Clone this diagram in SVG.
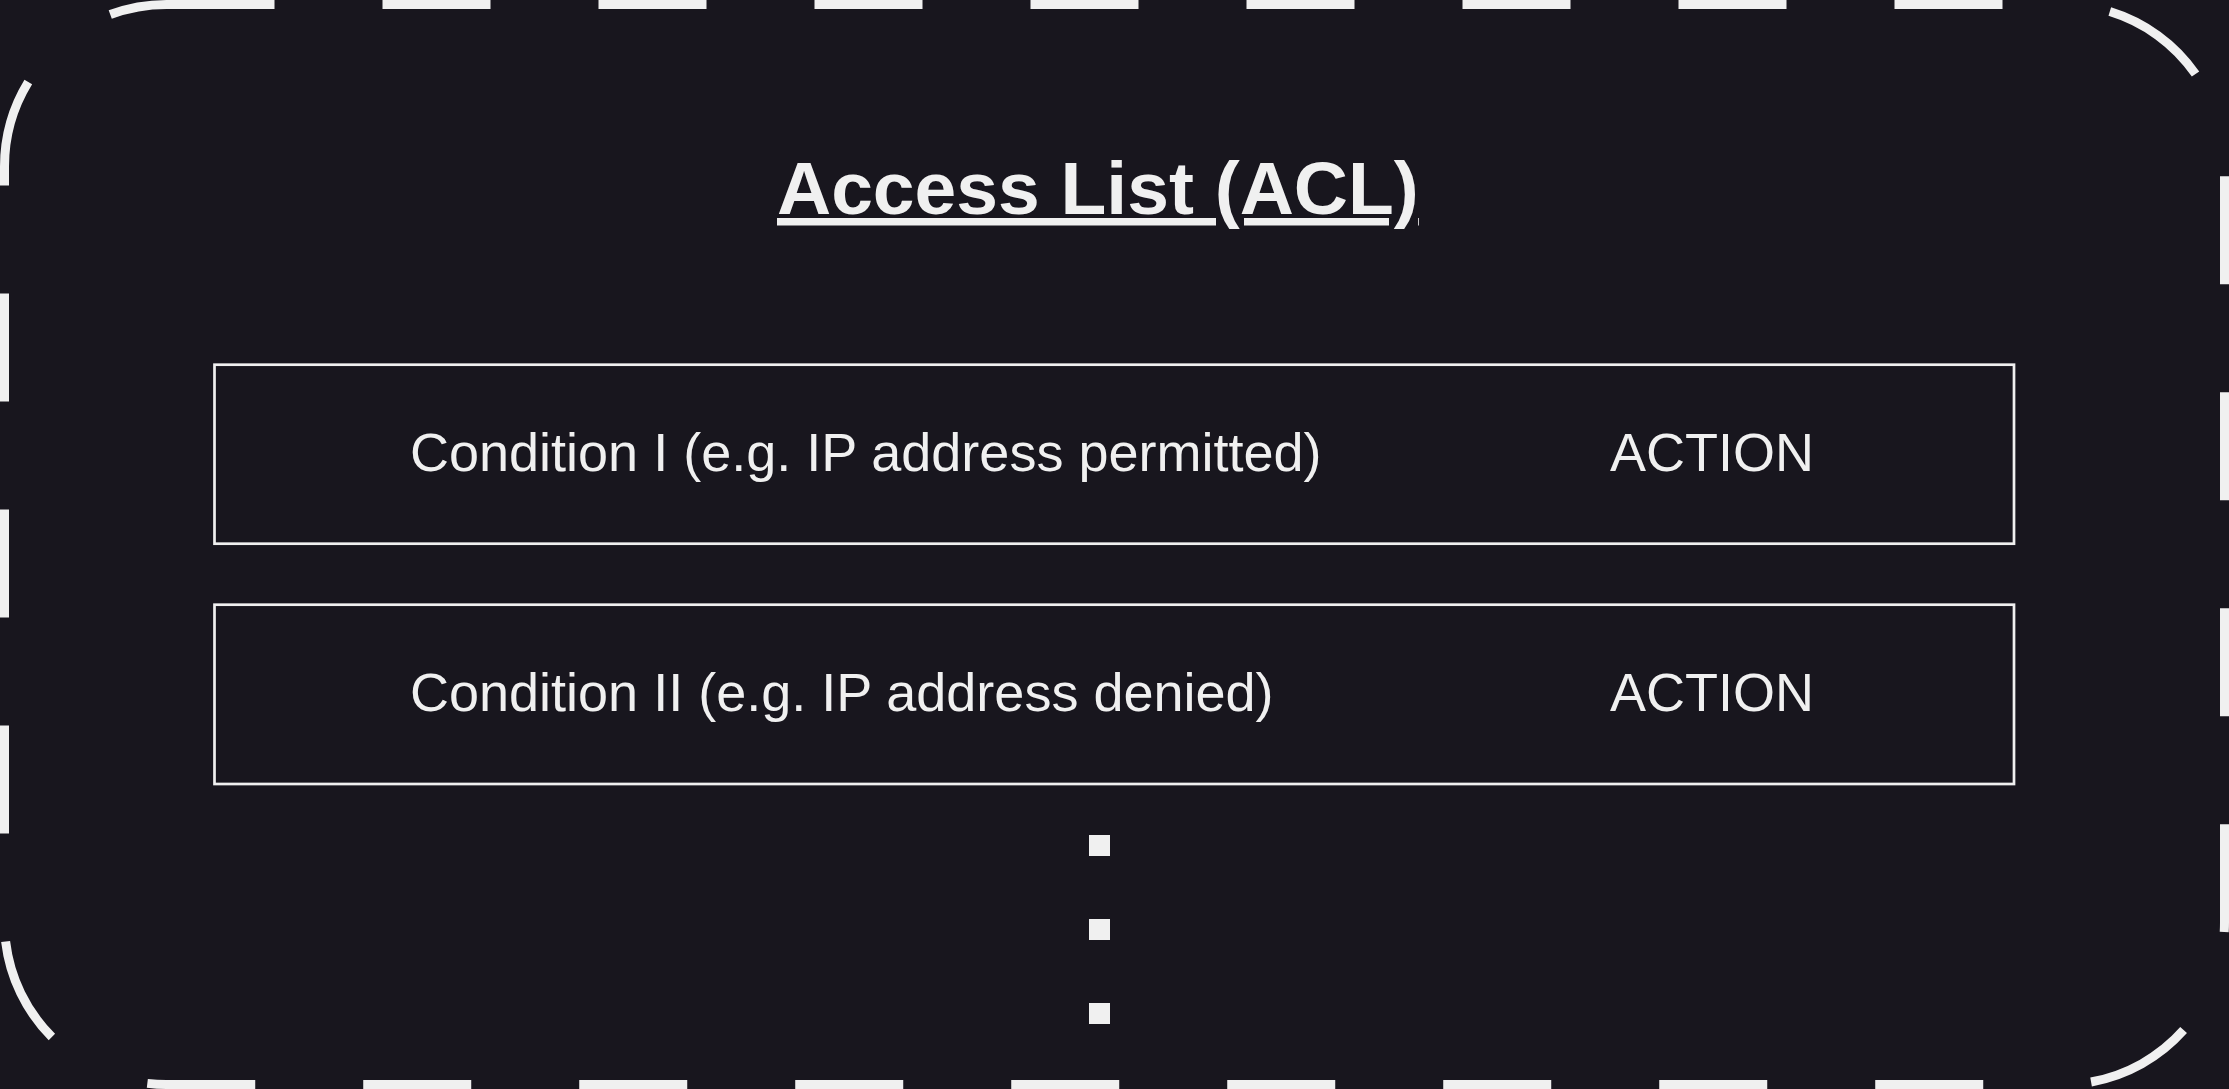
<svg xmlns="http://www.w3.org/2000/svg" width="2229" height="1089" viewBox="0 0 2229 1089">
<style>
.bg{fill:#18161e}
.frame{fill:none;stroke:#f0f0f0;stroke-width:9;stroke-dasharray:108 108}
.box{fill:none;stroke:#f0f0f0;stroke-width:2.7}
.lbl{font-family:"Liberation Sans",Arial,sans-serif;font-size:54px;fill:#f0f0f0}
.title{font-family:"Liberation Sans",Arial,sans-serif;font-size:75px;font-weight:bold;fill:#f0f0f0;text-decoration:underline}
.dots{stroke:#f0f0f0;stroke-width:21;stroke-dasharray:21 63}
</style>
<rect class="bg" x="0" y="0" width="2229" height="1089"/>
<g id="frame">
<rect class="frame" x="4.5" y="4.5" width="2220" height="1080" rx="162" ry="162"/>
</g>
<g id="title">
<text class="title" x="777" y="214">Access List (ACL)</text>
</g>
<g id="rule1">
<rect class="box" x="214.5" y="364.7" width="1799.5" height="179"/>
<text class="lbl" x="410" y="471">Condition I (e.g. IP address permitted)</text>
<text class="lbl" x="1610" y="471">ACTION</text>
</g>
<g id="rule2">
<rect class="box" x="214.5" y="604.7" width="1799.5" height="179.3"/>
<text class="lbl" x="410" y="711">Condition II (e.g. IP address denied)</text>
<text class="lbl" x="1610" y="711">ACTION</text>
</g>
<g id="more">
<line class="dots" x1="1099.5" y1="835" x2="1099.5" y2="1030"/>
</g>
<g id="connectors"></g>
</svg>
